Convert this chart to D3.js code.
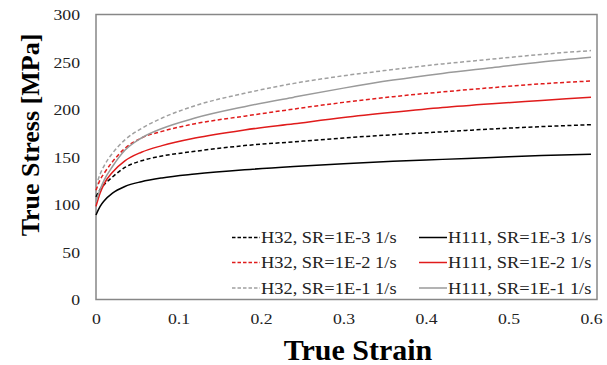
<!DOCTYPE html>
<html><head><meta charset="utf-8">
<script src="https://cdn.jsdelivr.net/npm/d3@7"></script>
<style>body{margin:0;background:#fff}svg{display:block}
text{font-family:"Liberation Serif","Times New Roman",serif}</style>
</head><body>
<svg id="c" width="607" height="365"></svg>
<script>
const strains = [0, 0.005, 0.01, 0.02, 0.035, 0.055, 0.08, 0.12, 0.18, 0.24, 0.3, 0.36, 0.42, 0.48, 0.54, 0.6];
const h32_1e3  = [108, 116, 121, 129, 139, 146, 151, 156, 162, 166, 170, 173.5, 176.5, 179.5, 182, 184];
const h32_1e2  = [115, 126, 133, 145, 159, 170, 177, 185, 193, 200.5, 207.5, 213.5, 218.5, 223, 227, 230];
const h32_1e1  = [119, 132, 141, 154, 168, 180, 191, 204, 217, 227.5, 235.5, 242, 248, 253, 258, 262];
const h111_1e3 = [89, 98, 104, 112, 119, 124, 128, 132, 136.5, 140, 143, 145.5, 147.5, 149.5, 151.5, 153];
const h111_1e2 = [98, 112, 122, 134, 146, 155, 162, 170, 178.5, 185, 191.5, 197, 202, 206, 209.5, 213];
const h111_1e1 = [103, 116, 126, 140, 157, 170, 180, 191, 203, 213, 222.5, 231, 238, 244, 250, 255];
const seriesNames = ["H32, SR=1E-3 1/s","H32, SR=1E-2 1/s","H32, SR=1E-1 1/s","H111, SR=1E-3 1/s","H111, SR=1E-2 1/s","H111, SR=1E-1 1/s"];
const xTicks = [0, 0.1, 0.2, 0.3, 0.4, 0.5, 0.6];
const yTicks = [0, 50, 100, 150, 200, 250, 300];

const series = [
  {name: seriesNames[0], vals: h32_1e3, color: "#000000", dash: "4,2.5"},
  {name: seriesNames[1], vals: h32_1e2, color: "#e01b1b", dash: "4,2.5"},
  {name: seriesNames[2], vals: h32_1e1, color: "#a0a0a0", dash: "4,2.5"},
  {name: seriesNames[3], vals: h111_1e3, color: "#000000", dash: null},
  {name: seriesNames[4], vals: h111_1e2, color: "#e01b1b", dash: null},
  {name: seriesNames[5], vals: h111_1e1, color: "#9a9a9a", dash: null}
];

const svg = d3.select("#c");
const x = d3.scaleLinear().domain([0, 0.6]).range([96, 591]);
const y = d3.scaleLinear().domain([0, 300]).range([299.5, 14.5]);
const serif = '"Liberation Serif","Times New Roman",serif';

// frame
svg.append("rect").attr("x", 96).attr("y", 14.5).attr("width", 501).attr("height", 285)
  .attr("fill", "none").attr("stroke", "#878787").attr("stroke-width", 1.5);

// axes (labels only)
const yAxis = d3.axisLeft(y).tickValues(yTicks).tickSize(0).tickPadding(0);
const gy = svg.append("g").attr("transform", "translate(80,0)").call(yAxis);
const xAxis = d3.axisBottom(x).tickValues(xTicks).tickSize(0).tickFormat(d => d3.format("")(d));
const gx = svg.append("g").attr("transform", "translate(0,313)").call(xAxis);
[gx, gy].forEach(g => {
  g.attr("font-family", null).attr("font-size", null);
  g.select(".domain").remove();
  g.selectAll("text").style("font-family", serif).style("font-size", "15px").attr("fill", "#222");
});
gy.selectAll(".tick text").attr("x", 0).attr("dy", "0.34em").attr("transform", "scale(1.18,1)")
  .attr("text-anchor", "end");
gx.selectAll(".tick text").attr("y", 0).attr("dy", "0.71em").attr("transform", "scale(1.18,1)");

// curves
const line = d3.line().x((d, i) => x(strains[i])).y(d => y(d)).curve(d3.curveMonotoneX);
series.forEach(s => {
  svg.append("path").datum(s.vals).attr("d", line).attr("fill", "none")
    .attr("stroke", s.color).attr("stroke-width", 1.5)
    .attr("stroke-dasharray", s.dash);
});

// legend
const legRows = [237.5, 262.5, 288];
const legCols = [[232, 260, 261], [419, 447, 448]];
series.forEach((s, i) => {
  const col = legCols[Math.floor(i / 3)], ry = legRows[i % 3];
  svg.append("line").attr("x1", col[0]).attr("x2", col[1]).attr("y1", ry).attr("y2", ry)
    .attr("stroke", s.color).attr("stroke-width", 1.5).attr("stroke-dasharray", s.dash ? "3.5,2" : null);
  svg.append("text").attr("transform", `translate(${col[2]},${ry}) scale(1.15,1)`)
    .attr("dy", "0.35em").style("font-family", serif).style("font-size", "16px").attr("fill", "#222")
    .text(s.name);
});

// titles
svg.append("text").attr("x", 358).attr("y", 360).attr("text-anchor", "middle")
  .style("font-family", serif).attr("font-weight", "bold").style("font-size", "30px").text("True Strain");
svg.append("text").attr("transform", "translate(39,135) rotate(-90)").attr("text-anchor", "middle")
  .style("font-family", serif).attr("font-weight", "bold").style("font-size", "26px").text("True Stress [MPa]");
</script>
</body></html>
